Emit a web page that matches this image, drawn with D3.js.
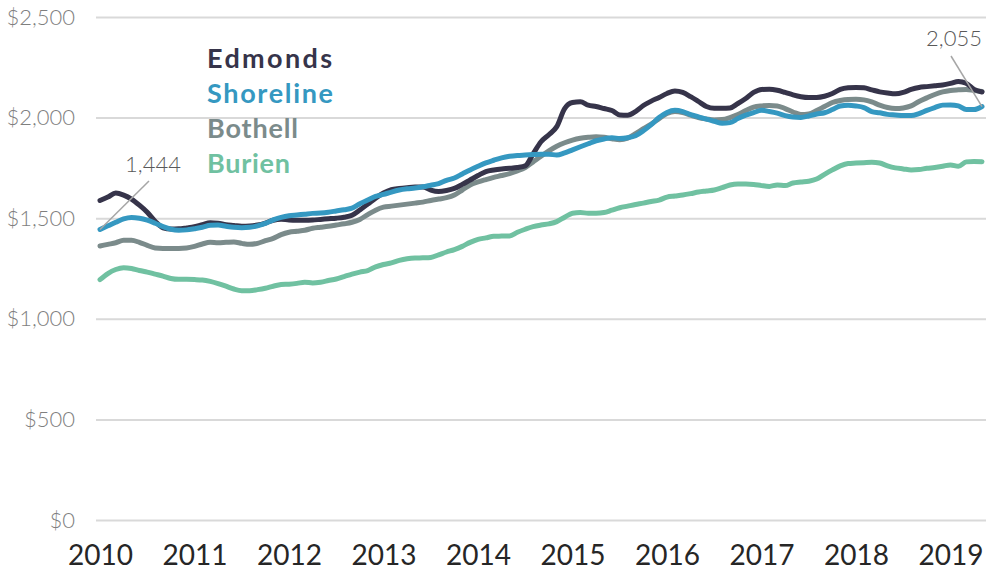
<!DOCTYPE html>
<html>
<head>
<meta charset="utf-8">
<script src="https://cdn.jsdelivr.net/npm/d3@7/dist/d3.min.js"></script>
<style>
  html, body { margin: 0; padding: 0; background: #ffffff; }
  svg { display: block; }
</style>
</head>
<body>
<svg id="chart" width="986" height="570"></svg>
<script>
// Median monthly rent, Jan 2010 – May 2019 (one value per month)
const startYear = 2010;
const yearLabels = ["2010", "2011", "2012", "2013", "2014", "2015", "2016", "2017", "2018", "2019"];
const yTicks = [0, 500, 1000, 1500, 2000, 2500];
const seriesNames = ["Edmonds", "Shoreline", "Bothell", "Burien"];

const edmonds = [
  1588, 1605, 1625, 1615, 1595, 1565, 1530, 1485, 1452, 1446, 1447, 1452,
  1458, 1468, 1478, 1475, 1468, 1464, 1460, 1461, 1466, 1476, 1490, 1495,
  1491, 1490, 1490, 1491, 1494, 1497, 1500, 1505, 1515, 1541, 1570, 1600,
  1625, 1642, 1648, 1652, 1655, 1655, 1640, 1633, 1638, 1648, 1668, 1690,
  1712, 1732, 1740, 1745, 1748, 1752, 1760, 1820, 1880, 1915, 1955, 2045,
  2075, 2079, 2062, 2055, 2045, 2035, 2013, 2012, 2030, 2060, 2082, 2100,
  2120, 2132, 2125, 2104, 2080, 2055, 2046, 2046, 2048, 2070, 2095, 2125,
  2140, 2141, 2136, 2125, 2113, 2104, 2100, 2100, 2106, 2120, 2140, 2148,
  2150, 2148, 2138, 2128, 2122, 2118, 2125, 2140, 2150, 2154, 2158, 2162,
  2170, 2180, 2170, 2140, 2127
];
const shoreline = [
  1444, 1462, 1480, 1497, 1504, 1500, 1490, 1475, 1458, 1445, 1440, 1442,
  1448, 1455, 1465, 1466, 1460, 1455, 1453, 1455, 1462, 1474, 1492, 1504,
  1512, 1516, 1520, 1524, 1526, 1530, 1536, 1542, 1550, 1572, 1590, 1608,
  1618, 1630, 1640, 1646, 1650, 1656, 1664, 1672, 1688, 1700, 1720, 1740,
  1758, 1775, 1788, 1800, 1808, 1812, 1814, 1816, 1818, 1818, 1814, 1825,
  1840, 1855, 1870, 1885, 1894, 1900, 1896, 1900, 1910, 1935, 1965, 2000,
  2025, 2036, 2030, 2015, 2004, 1992, 1982, 1972, 1975, 1995, 2012, 2025,
  2036, 2030, 2022, 2010, 2003, 2001, 2008, 2018, 2024, 2040, 2058, 2062,
  2058, 2050, 2030, 2024, 2016, 2013, 2010, 2010, 2020, 2036, 2050, 2062,
  2063, 2058, 2040, 2040, 2055
];
const bothell = [
  1362, 1370, 1378, 1390, 1390, 1380, 1365, 1352, 1350, 1350, 1350, 1352,
  1360, 1372, 1380, 1378, 1380, 1382, 1375, 1370, 1375, 1388, 1400, 1418,
  1430, 1435, 1440, 1450, 1455, 1460, 1466, 1472, 1480, 1494, 1518, 1540,
  1555, 1560, 1565, 1570, 1575, 1580, 1588, 1595, 1602, 1615, 1640, 1665,
  1680, 1692, 1703, 1712, 1722, 1735, 1752, 1780, 1808, 1835, 1858, 1875,
  1888, 1897, 1902, 1905, 1902, 1895, 1890, 1898, 1920, 1945, 1968, 1995,
  2020, 2030, 2025, 2012, 2000, 1993, 1988, 1990, 2000, 2015, 2035, 2052,
  2058, 2060, 2058, 2045, 2028, 2015, 2018, 2035, 2055, 2075, 2085, 2090,
  2091, 2088, 2078, 2062, 2050, 2045, 2048, 2058, 2080, 2098, 2115, 2128,
  2135, 2138, 2140, 2135, 2130
];
const burien = [
  1195, 1225, 1245, 1254, 1250, 1240, 1232, 1222, 1212, 1200, 1196, 1196,
  1195, 1193, 1186, 1175, 1162, 1148, 1140, 1140, 1145, 1152, 1162, 1170,
  1172, 1176, 1182, 1178, 1182, 1190, 1198, 1210, 1222, 1232, 1240, 1258,
  1270, 1278, 1290, 1298, 1302, 1303, 1305, 1318, 1332, 1344, 1360, 1380,
  1395, 1402, 1410, 1411, 1412, 1430, 1445, 1458, 1466, 1472, 1483, 1505,
  1525, 1528, 1525, 1525, 1528, 1540, 1552, 1560, 1568, 1575, 1583, 1590,
  1605, 1610, 1615, 1622, 1630, 1635, 1640, 1652, 1665, 1670, 1670, 1668,
  1662, 1658, 1665, 1662, 1675, 1680, 1684, 1695, 1718, 1740, 1760, 1772,
  1774, 1776, 1778, 1774, 1760, 1750, 1745, 1740, 1742, 1748, 1752, 1758,
  1765, 1758, 1780, 1782, 1781
];

const colors = {
  Edmonds: "#36344a",
  Shoreline: "#3598c1",
  Bothell: "#7b8b8b",
  Burien: "#70c1a1"
};
const valuesByName = { Edmonds: edmonds, Shoreline: shoreline, Bothell: bothell, Burien: burien };

const svg = d3.select("#chart");
const plot = { left: 96, right: 986, top: 17, bottom: 520 };

const n = shoreline.length;
const x = d3.scaleLinear().domain([0, n - 1]).range([100, 982]);
const y = d3.scaleLinear().domain([0, 2500]).range([plot.bottom, plot.top]);

// y axis with full-width gridlines
const yAxis = svg.append("g")
  .attr("transform", `translate(${plot.left},0)`)
  .call(d3.axisLeft(y)
    .tickValues(yTicks)
    .tickSize(-(plot.right - plot.left))
    .tickPadding(21)
    .tickFormat(d => "$" + d3.format(",")(d)));
yAxis.select(".domain").remove();
yAxis.selectAll(".tick line").attr("stroke", "#d9d9d9").attr("stroke-width", 2);
yAxis.selectAll(".tick text")
  .attr("fill", "#7f7f7f")
  .style("font-family", "Lato, 'Open Sans', sans-serif")
  .style("font-weight", 300)
  .style("font-size", "22px");

// x axis: one label per January
const xAxis = svg.append("g")
  .attr("transform", `translate(0,${plot.bottom})`)
  .call(d3.axisBottom(x)
    .tickValues(yearLabels.map((_, i) => i * 12))
    .tickSize(0)
    .tickPadding(25)
    .tickFormat((d, i) => yearLabels[i]));
xAxis.select(".domain").remove();
xAxis.selectAll(".tick text")
  .attr("fill", "#262626")
  .style("font-family", "Lato, 'Open Sans', sans-serif")
  .style("font-size", "28px");

// series lines
const line = d3.line()
  .x((d, i) => x(i))
  .y(d => y(d))
  .curve(d3.curveMonotoneX);

const drawOrder = ["Burien", "Bothell", "Edmonds", "Shoreline"];
svg.append("g")
  .selectAll("path")
  .data(drawOrder)
  .join("path")
  .attr("d", name => line(valuesByName[name]))
  .attr("fill", "none")
  .attr("stroke", name => colors[name])
  .attr("stroke-width", 5)
  .attr("stroke-linejoin", "round")
  .attr("stroke-linecap", "round");

// legend, set wide to suit the geometric face
const legendWidths = { Edmonds: 125, Shoreline: 126, Bothell: 91, Burien: 83 };
const legend = svg.append("g")
  .style("font-family", "Lato, 'Open Sans', sans-serif")
  .style("font-weight", "bold")
  .style("font-size", "27px");
legend.selectAll("text")
  .data(seriesNames)
  .join("text")
  .attr("x", 207)
  .attr("y", (d, i) => 68 + i * 35)
  .attr("fill", d => colors[d])
  .attr("textLength", d => legendWidths[d])
  .attr("lengthAdjust", "spacing")
  .text(d => d);

// value callouts for the first and last Shoreline readings
const fmt = d3.format(",");
const callouts = [
  { i: 0, value: shoreline[0], tx: 153, ty: 172, lx: 149, ly: 181 },
  { i: n - 1, value: shoreline[n - 1], tx: 954, ty: 46, lx: 951, ly: 56 }
];
const cg = svg.append("g");
cg.selectAll("line")
  .data(callouts)
  .join("line")
  .attr("x1", d => x(d.i))
  .attr("y1", d => y(d.value))
  .attr("x2", d => d.lx)
  .attr("y2", d => d.ly)
  .attr("stroke", "#a6a6a6")
  .attr("stroke-width", 1.5);
cg.selectAll("text")
  .data(callouts)
  .join("text")
  .attr("x", d => d.tx)
  .attr("y", d => d.ty)
  .attr("text-anchor", "middle")
  .attr("fill", "#595959")
  .style("font-family", "Lato, 'Open Sans', sans-serif")
  .style("font-weight", 300)
  .style("font-size", "22px")
  .text(d => fmt(d.value));
</script>
</body>
</html>
